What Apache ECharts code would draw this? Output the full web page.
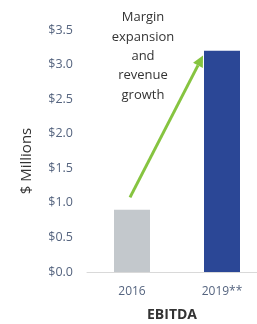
<!DOCTYPE html>
<html>
<head>
<meta charset="utf-8">
<script src="https://cdn.jsdelivr.net/npm/echarts@6/dist/echarts.min.js"></script>
<style>
  html, body { margin: 0; padding: 0; background: #fff; }
  #chart { width: 257px; height: 324px; }
</style>
</head>
<body>
<div id="chart"></div>
<script>
const categories = ['2016', '2019**']
const ebitda = [0.9, 3.2]
const barColors = ['#c3c8cc', '#2b4796']
const yTicks = [0, 0.5, 1.0, 1.5, 2.0, 2.5, 3.0, 3.5]
const annotation = ['Margin', 'expansion', 'and', 'revenue', 'growth']
const arrowFrom = 1.08
const arrowTo = 3.13

const myChart = echarts.init(document.getElementById('chart'))
const font = '"Open Sans", "Noto Sans", sans-serif'

const option = {
    animation: false,
    textStyle: { fontFamily: font },
    grid: { left: 87, top: 30, width: 180, bottom: 52, containLabel: false, outerBoundsMode: 'none' },
    xAxis: {
        type: 'category',
        data: categories,
        name: 'EBITDA',
        nameLocation: 'middle',
        nameGap: 36,
        nameTextStyle: { color: '#333', fontSize: 14, fontWeight: 'bold', padding: [0, 10, 0, 0] },
        axisLine: { lineStyle: { color: '#d9d9d9', width: 1 } },
        axisTick: { show: false },
        axisLabel: { color: '#55647f', fontSize: 12, margin: 14 }
    },
    yAxis: {
        type: 'value',
        min: yTicks[0],
        max: yTicks[yTicks.length - 1],
        interval: 0.5,
        name: '$ Millions',
        nameLocation: 'middle',
        nameGap: 53,
        nameTextStyle: { color: '#333', fontSize: 15, padding: [0, 20, 0, 0] },
        axisLine: { show: false },
        axisTick: { show: false },
        splitLine: { show: false },
        axisLabel: {
            color: '#55647f',
            fontSize: 12.5,
            margin: 14,
            formatter: v => '$' + v.toFixed(1)
        }
    },
    series: [{
        type: 'bar',
        barWidth: 36,
        data: ebitda.map((v, i) => ({ value: v, itemStyle: { color: barColors[i] } }))
    }]
}
myChart.setOption(option)

// arrow + annotation text
const p0 = myChart.convertToPixel({ seriesIndex: 0 }, [categories[0], arrowFrom])
const p1 = myChart.convertToPixel({ seriesIndex: 0 }, [categories[1], arrowTo])
const x0 = p0[0] - 2
const y0 = p0[1]
const x1 = p1[0] - 19
const y1 = p1[1]
const ang = Math.atan2(y1 - y0, x1 - x0)
const headLen = 11
const headW = 5.5
const bx = x1 - headLen * Math.cos(ang)
const by = y1 - headLen * Math.sin(ang)
const nx = -Math.sin(ang)
const ny = Math.cos(ang)

myChart.setOption({
    graphic: [
        {
            type: 'line',
            shape: { x1: x0, y1: y0, x2: bx, y2: by },
            style: { stroke: '#86c440', lineWidth: 3 }
        },
        {
            type: 'polygon',
            shape: { points: [[x1, y1], [bx + nx * headW, by + ny * headW], [bx - nx * headW, by - ny * headW]] },
            style: { fill: '#86c440' }
        },
        {
            type: 'text',
            x: 143,
            y: 8,
            style: {
                text: annotation.join('\n'),
                fill: '#333',
                font: '13px ' + font,
                align: 'center',
                lineHeight: 19.3
            }
        }
    ]
})
</script>
</body>
</html>
